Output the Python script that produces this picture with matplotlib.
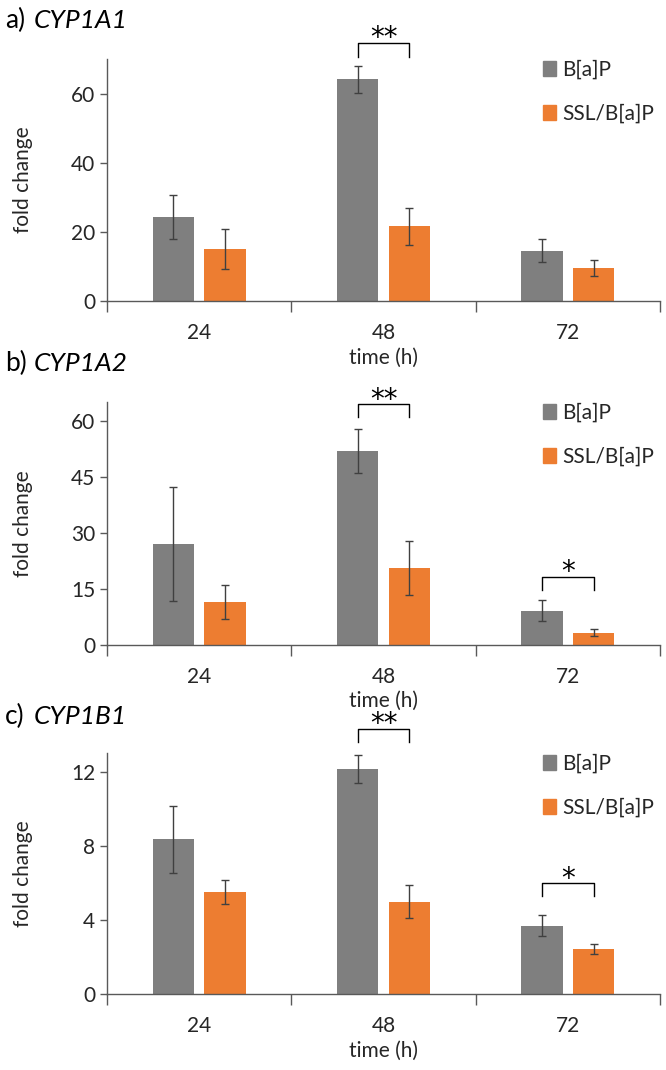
import numpy as np
import matplotlib.pyplot as plt
from matplotlib.patches import Patch

plt.rcParams['font.family'] = ['Lato', 'DejaVu Sans']

times = ['24', '48', '72']
series = ['B[a]P', 'SSL/B[a]P']
colors = ['#7f7f7f', '#ed7d31']

genes = ['CYP1A1', 'CYP1A2', 'CYP1B1']
letters = ['a)', 'b)', 'c)']

bap_a = [24.2, 64.2, 14.6]
bap_a_err = [6.4, 3.9, 3.4]
ssl_a = [15.0, 21.6, 9.5]
ssl_a_err = [5.7, 5.3, 2.3]

bap_b = [27.0, 51.9, 9.1]
bap_b_err = [15.3, 6.0, 2.8]
ssl_b = [11.4, 20.5, 3.2]
ssl_b_err = [4.5, 7.2, 1.0]

bap_c = [8.34, 12.14, 3.69]
bap_c_err = [1.8, 0.74, 0.58]
ssl_c = [5.5, 4.97, 2.43]
ssl_c_err = [0.63, 0.89, 0.29]

ymaxes = [70, 65, 13]
yticks = [[0, 20, 40, 60], [0, 15, 30, 45, 60], [0, 4, 8, 12]]

# significance: (category index, stars, bracket top, bracket bottom)
sig_a = [(1, '**', 74.6, 70.6)]
sig_b = [(1, '**', 64.4, 60.9), (2, '*', 18.2, 14.7)]
sig_c = [(1, '**', 14.3, 13.6), (2, '*', 5.97, 5.29)]

data = [
    (bap_a, bap_a_err, ssl_a, ssl_a_err, sig_a),
    (bap_b, bap_b_err, ssl_b, ssl_b_err, sig_b),
    (bap_c, bap_c_err, ssl_c, ssl_c_err, sig_c),
]

fig = plt.figure(figsize=(6.66, 10.7), dpi=100)

# axes boxes in pixels (bottom, top) of the 1070 px tall figure
boxes = [(301, 59), (644.7, 402), (994, 753)]
title_y = [20, 363, 716]
left, right = 107 / 666, 660 / 666

x = np.arange(len(times))
off = 0.14
w = 0.223
axis_col = '#595959'
txt_col = '#262626'
fs = 15

for i, (bap, bap_err, ssl, ssl_err, sigs) in enumerate(data):
    b, t = boxes[i]
    ax = fig.add_axes([left, 1 - b / 1070, right - left, (b - t) / 1070])
    ax.bar(x - off, bap, w, color=colors[0], zorder=2)
    ax.bar(x + off, ssl, w, color=colors[1], zorder=2)
    ax.errorbar(x - off, bap, yerr=bap_err, fmt='none', ecolor='#404040',
                elinewidth=1, capsize=3, capthick=1, zorder=3)
    ax.errorbar(x + off, ssl, yerr=ssl_err, fmt='none', ecolor='#404040',
                elinewidth=1, capsize=3, capthick=1, zorder=3)

    ax.set_xlim(-0.5, 2.5)
    ax.set_ylim(0, ymaxes[i])
    ax.set_yticks(yticks[i])
    ax.set_xticks(x)
    ax.set_xticklabels(times)
    ax.set_xticks([-0.5, 0.5, 1.5, 2.5], minor=True)
    ax.tick_params(axis='x', which='major', length=0, labelsize=fs, pad=16,
                   colors=txt_col)
    ax.tick_params(axis='x', which='minor', length=8, width=1, color=axis_col)
    ax.tick_params(axis='y', length=5, width=1, color=axis_col, labelsize=fs,
                   labelcolor=txt_col)
    for s in ['top', 'right']:
        ax.spines[s].set_visible(False)
    for s in ['left', 'bottom']:
        ax.spines[s].set_color(axis_col)
        ax.spines[s].set_linewidth(1)

    ax.set_ylabel('fold change', fontsize=fs, color=txt_col)
    ax.yaxis.set_label_coords(-0.134, 0.5)
    ax.set_xlabel('time (h)', fontsize=fs, color=txt_col, labelpad=3)

    for (ci, stars, top, bot) in sigs:
        xs = [ci - off, ci - off, ci + off, ci + off]
        ax.plot(xs, [bot, top, top, bot], color='black', lw=1, clip_on=False,
                zorder=4)
        ax.annotate(stars, xy=(ci, top), xytext=(0, -2.4),
                    textcoords='offset points', ha='center', va='baseline',
                    fontsize=20, family='DejaVu Sans', annotation_clip=False)

    handles = [Patch(color=colors[0], label=series[0]),
               Patch(color=colors[1], label=series[1])]
    ax.legend(handles=handles, loc='upper left', bbox_to_anchor=(0.788, 0.998),
              frameon=False, fontsize=fs, handlelength=0.65, handleheight=0.75,
              handletextpad=0.3, labelspacing=1.15, borderpad=0,
              borderaxespad=0, labelcolor=txt_col)

    fig.text(5 / 666, 1 - title_y[i] / 1070, letters[i], fontsize=19,
             va='center', ha='left')
    fig.text(34 / 666, 1 - title_y[i] / 1070, genes[i], fontsize=19,
             style='italic', va='center', ha='left')

fig.savefig('out.png', dpi=100)
